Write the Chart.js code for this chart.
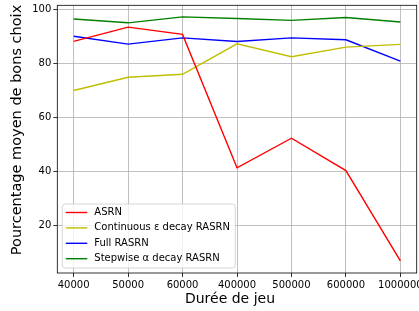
<!DOCTYPE html>
<html>
<head>
<meta charset="utf-8">
<script src="https://cdn.jsdelivr.net/npm/chart.js@4/dist/chart.umd.min.js"></script>
<style>
  body { margin: 0; background: #fff; }
</style>
</head>
<body>
<canvas id="chart" width="419" height="311"></canvas>
<script>
const durations = ['40000', '50000', '60000', '400000', '500000', '600000', '1000000'];
const yTicks = [20, 40, 60, 80, 100];

const asrn = [88.2, 93.5, 90.8, 41.3, 52.3, 40.3, 6.8];
const continuousEps = [70.0, 74.9, 76.0, 87.3, 82.5, 86.1, 87.1];
const fullRasrn = [90.1, 87.2, 89.5, 88.2, 89.5, 88.8, 80.9];
const stepwiseAlpha = [96.5, 95.1, 97.3, 96.7, 96.0, 97.1, 95.4];

const xTitle = 'Durée de jeu';
const yTitle = 'Pourcentage moyen de bons choix';

const FONT = 'DejaVu Sans';

function points(values) {
    return values.map((v, i) => ({ x: i, y: v }));
}

function makeSet(label, values, color) {
    return {
        label: label,
        data: points(values),
        borderColor: color,
        backgroundColor: color,
        borderWidth: 1.4,
        pointRadius: 0,
        tension: 0
    };
}

// frame on all four sides, plus the axis titles
const framePlugin = {
    id: 'frame',
    afterDraw(chart) {
        const a = chart.chartArea;
        const ctx = chart.ctx;
        ctx.save();
        ctx.strokeStyle = '#000';
        ctx.lineWidth = 0.8;
        ctx.strokeRect(a.left, a.top, a.right - a.left, a.bottom - a.top);

        ctx.fillStyle = '#000';
        ctx.textAlign = 'center';
        ctx.textBaseline = 'middle';
        ctx.font = '14px "' + FONT + '"';
        ctx.fillText(xTitle, 230, 299.5);
        ctx.font = '14.5px "' + FONT + '"';
        ctx.translate(17.5, 130);
        ctx.rotate(-Math.PI / 2);
        ctx.fillText(yTitle, 0, 0);
        ctx.restore();
    }
};

// legend box in the lower left corner of the plot
const legendPlugin = {
    id: 'innerLegend',
    afterDraw(chart) {
        const a = chart.chartArea;
        const ctx = chart.ctx;
        const x = a.left + 5, w = 173, h = 64;
        const y = a.bottom - 5 - h;
        ctx.save();
        ctx.fillStyle = 'rgba(255,255,255,0.8)';
        ctx.strokeStyle = '#cccccc';
        ctx.lineWidth = 0.8;
        ctx.beginPath();
        ctx.roundRect(x, y, w, h, 3);
        ctx.fill();
        ctx.stroke();
        ctx.font = '10px "' + FONT + '"';
        ctx.textBaseline = 'middle';
        chart.data.datasets.forEach((ds, i) => {
            const ry = y + 8.5 + i * 15.4;
            ctx.strokeStyle = ds.borderColor;
            ctx.lineWidth = 1.4;
            ctx.beginPath();
            ctx.moveTo(x + 3.5, ry);
            ctx.lineTo(x + 25, ry);
            ctx.stroke();
            ctx.fillStyle = '#000';
            ctx.fillText(ds.label, x + 32, ry);
        });
        ctx.restore();
    }
};

new Chart(document.getElementById('chart'), {
    type: 'line',
    data: {
        datasets: [
            makeSet('ASRN', asrn, '#ff0000'),
            makeSet('Continuous ε decay RASRN', continuousEps, '#bfbf00'),
            makeSet('Full RASRN', fullRasrn, '#0000ff'),
            makeSet('Stepwise α decay RASRN', stepwiseAlpha, '#008000')
        ]
    },
    options: {
        responsive: false,
        animation: false,
        layout: { padding: { left: 0, right: 2.3, top: 5.3, bottom: 0 } },
        plugins: {
            legend: { display: false },
            tooltip: { enabled: false }
        },
        scales: {
            x: {
                type: 'linear',
                min: -0.3,
                max: 6.3,
                afterBuildTicks: (s) => { s.ticks = durations.map((d, i) => ({ value: i })); },
                afterFit: (s) => { s.height = 38; s.paddingLeft = 0; s.paddingRight = 0; },
                ticks: {
                    callback: (v) => durations[v],
                    color: '#000',
                    font: { family: FONT, size: 10 },
                    padding: 2,
                    maxRotation: 0,
                    autoSkip: false
                },
                grid: { color: '#b0b0b0', lineWidth: 0.8, tickLength: 4, tickColor: '#000' },
                border: { display: false }
            },
            y: {
                min: 2.3,
                max: 101.6,
                afterBuildTicks: (s) => { s.ticks = yTicks.map(v => ({ value: v })); },
                afterFit: (s) => { s.width = 57.3; s.paddingTop = 0; s.paddingBottom = 0; },
                ticks: {
                    color: '#000',
                    font: { family: FONT, size: 10 },
                    padding: 2
                },
                grid: { color: '#b0b0b0', lineWidth: 0.8, tickLength: 4, tickColor: '#000' },
                border: { display: false }
            }
        }
    },
    plugins: [framePlugin, legendPlugin]
});
</script>
</body>
</html>
